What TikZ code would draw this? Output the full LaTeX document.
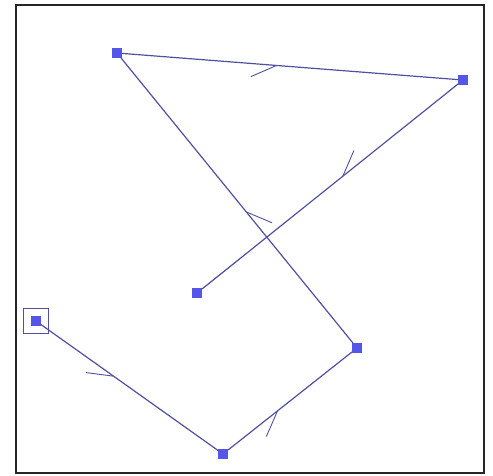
\documentclass[tikz,border=0pt]{standalone}
\usetikzlibrary{decorations.markings}
\definecolor{edgeblue}{RGB}{80,80,160}
\definecolor{nodeblue}{RGB}{85,85,232}
\begin{document}
\begin{tikzpicture}[x=1pt,y=-1pt,
  pt/.style={draw=none,fill=nodeblue,minimum size=10pt,inner sep=0pt,outer sep=0pt},
  startbox/.style={draw=edgeblue,line width=1pt,minimum size=25pt,inner sep=0pt},
  link/.style={draw=edgeblue,line width=1.2pt,postaction={decorate},
    decoration={markings,mark=at position #1 with {\draw[edgeblue,line width=0.9pt] (0,0) -- (208:28pt);}}}]
\useasboundingbox (0,0) rectangle (493,475);
\node[draw=black!85,line width=1.6pt,minimum width=468pt,minimum height=468pt,inner sep=0pt] (frame) at (250,239) {};
\node[startbox] (abox) at (36,321) {};
\node[pt] (na) at (36,321) {};
\node[pt] (nb) at (223,454) {};
\node[pt] (nc) at (357,348) {};
\node[pt] (nd) at (117,53) {};
\node[pt] (ne) at (463,80) {};
\node[pt] (nf) at (197,293) {};
\draw[link=0.41] (na) -- (nb);
\draw[link=0.40] (nb) -- (nc);
\draw[link=0.46] (nc) -- (nd);
\draw[link=0.46] (nd) -- (ne);
\draw[link=0.45] (ne) -- (nf);
\end{tikzpicture}
\end{document}
